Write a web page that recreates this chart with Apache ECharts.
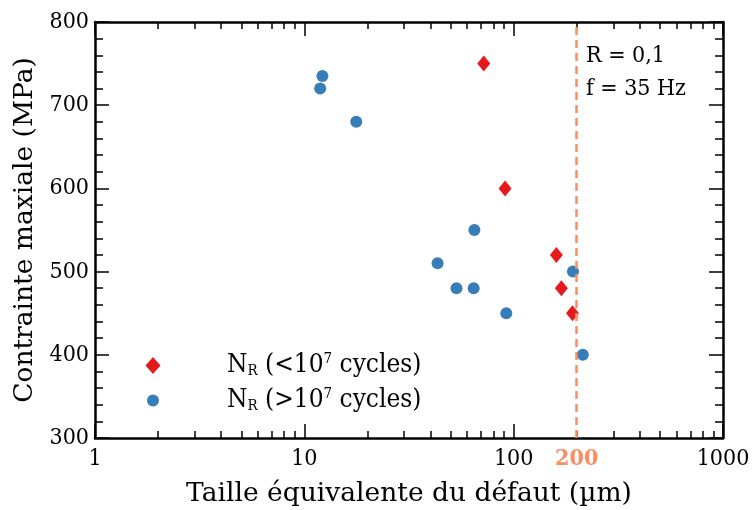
<!DOCTYPE html>
<html>
<head>
<meta charset="utf-8">
<script src="https://cdn.jsdelivr.net/npm/echarts@6/dist/echarts.min.js"></script>
<style>
  html, body { margin: 0; padding: 0; background: #fff; }
  #chart { width: 755px; height: 510px; }
</style>
</head>
<body>
<div id="chart"></div>
<script>
// défaut -> contrainte, rompues (< 1e7 cycles)
const failedSize = [72, 91, 160, 169, 191];
const failedStress = [750, 600, 520, 480, 450];
// non rompues (> 1e7 cycles)
const runoutSize = [12.2, 11.9, 17.7, 64.9, 43.3, 53.3, 64.4, 92.2, 192, 214];
const runoutStress = [735, 720, 680, 550, 510, 480, 480, 450, 500, 400];
const limitSize = 200;
const notes = ['R = 0,1', 'f = 35 Hz'];

const FONT = '"DejaVu Serif Condensed", "DejaVu Serif", serif';
const FONT_WIDE = '"DejaVu Serif", serif';
const RED = '#e41a1c';
const BLUE = '#377eb8';
const ORANGE = '#fc8d62';

// positions des petites graduations log (2..9 par décade), en exposant
const minorLog = [];
for (let d = 0; d < 3; d++) {
  for (let k = 2; k <= 9; k++) minorLog.push(Math.log10(k * Math.pow(10, d)));
}

const chart = echarts.init(document.getElementById('chart'));

const lineStyle = { color: '#000', width: 2.5 };
const tickStyle = { color: '#000', width: 1.5 };

const decoAxis = (pos, ticks, len, showLine) => ({
  type: 'value',
  position: pos,
  min: 0,
  max: 3,
  gridIndex: 0,
  axisLine: { show: showLine, onZero: false, lineStyle },
  axisTick: { show: true, inside: true, length: len, customValues: ticks, lineStyle: tickStyle },
  axisLabel: { show: false },
  splitLine: { show: false }
});

const legendText = {
  fontFamily: FONT,
  fontSize: 26,
  color: '#000',
  lineHeight: 27,
  rich: {
    sub: { fontFamily: FONT, fontSize: 15, color: '#000', verticalAlign: 'bottom', lineHeight: 27, padding: [8, 0, 0, 0] },
    sup: { fontFamily: FONT, fontSize: 15, color: '#000', verticalAlign: 'top', lineHeight: 27, padding: [0, 0, 10, 0] }
  }
};

const legendFmt = name => name === 'lt'
  ? 'N{sub|R} (<10{sup|7} cycles)'
  : 'N{sub|R} (>10{sup|7} cycles)';

const option = {
  animation: false,
  textStyle: { fontFamily: FONT },
  grid: { left: 95, right: 32, top: 22, bottom: 72, outerBoundsMode: 'none' },
  xAxis: [
    {
      type: 'log',
      logBase: 10,
      min: 1,
      max: 1000,
      position: 'bottom',
      name: 'Taille équivalente du défaut (µm)',
      nameLocation: 'middle',
      nameGap: 43,
      nameTextStyle: { fontFamily: FONT_WIDE, fontSize: 26.5, color: '#000' },
      axisLine: { show: true, onZero: false, lineStyle },
      axisTick: { show: true, inside: true, length: 14, lineStyle: tickStyle },
      axisLabel: { fontFamily: FONT, fontSize: 23, color: '#000', margin: 10, formatter: v => String(v) },
      splitLine: { show: false },
      minorTick: { show: false }
    },
    decoAxis('bottom', minorLog, 7, false),
    decoAxis('top', [0, 1, 2, 3], 14, true),
    decoAxis('top', minorLog, 7, false)
  ],
  yAxis: [
    {
      type: 'value',
      min: 300,
      max: 800,
      interval: 100,
      position: 'left',
      name: 'Contrainte maxiale (MPa)',
      nameLocation: 'middle',
      nameGap: 54,
      nameTextStyle: { fontFamily: FONT_WIDE, fontSize: 26.5, color: '#000' },
      axisLine: { show: true, onZero: false, lineStyle },
      axisTick: { show: true, inside: true, length: 14, lineStyle: tickStyle },
      minorTick: { show: true, splitNumber: 5, length: 8, lineStyle: tickStyle },
      axisLabel: { fontFamily: FONT, fontSize: 23, color: '#000', margin: 6 },
      splitLine: { show: false }
    },
    {
      type: 'value',
      min: 300,
      max: 800,
      interval: 100,
      position: 'right',
      axisLine: { show: true, onZero: false, lineStyle },
      axisTick: { show: true, inside: true, length: 14, lineStyle: tickStyle },
      minorTick: { show: true, splitNumber: 5, length: 8, lineStyle: tickStyle },
      axisLabel: { show: false },
      splitLine: { show: false }
    }
  ],
  legend: [
    {
      left: 140.5,
      top: 347,
      itemWidth: 15,
      itemHeight: 17,
      data: [{ name: 'lt', icon: 'diamond' }],
      formatter: legendFmt,
      textStyle: Object.assign({ padding: [0, 0, 0, 61.5] }, legendText)
    },
    {
      left: 142,
      top: 382,
      itemWidth: 12,
      itemHeight: 12,
      data: [{ name: 'gt', icon: 'circle' }],
      formatter: legendFmt,
      textStyle: Object.assign({ padding: [0, 0, 0, 63] }, legendText)
    }
  ],
  graphic: [
    {
      type: 'text',
      left: 586,
      top: 40,
      style: { text: notes.join('\n'), font: '23px ' + FONT, fill: '#000', lineHeight: 33 }
    }
  ],
  series: [
    {
      name: 'lt',
      type: 'scatter',
      xAxisIndex: 0,
      yAxisIndex: 0,
      symbol: 'diamond',
      symbolSize: [13, 16],
      itemStyle: { color: RED, opacity: 1 },
      data: failedSize.map((s, i) => [s, failedStress[i]]),
      z: 3
    },
    {
      name: 'gt',
      type: 'scatter',
      xAxisIndex: 0,
      yAxisIndex: 0,
      symbol: 'circle',
      symbolSize: 12,
      itemStyle: { color: BLUE, opacity: 1 },
      data: runoutSize.map((s, i) => [s, runoutStress[i]]),
      z: 3,
      markLine: {
        silent: true,
        symbol: 'none',
        lineStyle: { color: ORANGE, type: [8, 5], width: 2.5 },
        label: {
          show: true,
          position: 'start',
          distance: 10,
          formatter: String(limitSize),
          fontFamily: FONT,
          fontSize: 23,
          fontWeight: 'bold',
          color: ORANGE
        },
        data: [{ xAxis: limitSize }]
      }
    }
  ]
};

chart.setOption(option);
</script>
</body>
</html>
